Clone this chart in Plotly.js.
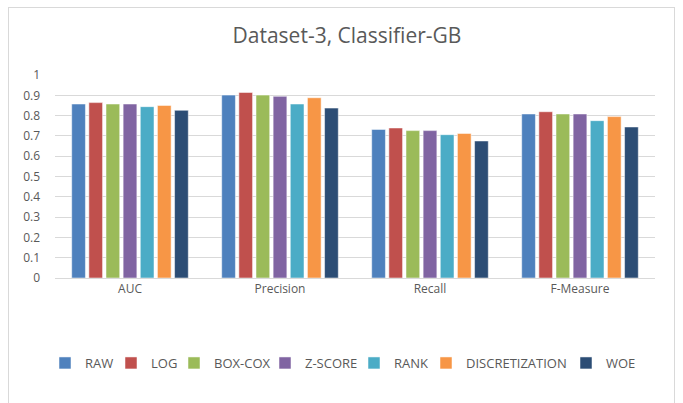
<!DOCTYPE html>
<html><head><meta charset="utf-8">
<script src="https://cdn.plot.ly/plotly-3.0.1.min.js"></script>
<style>
body{margin:0;padding:0;background:#fff;}
#frame{position:absolute;left:8px;top:7px;width:665px;height:400px;border:1px solid #d9d9d9;border-bottom:none;}
#chart{position:absolute;left:0;top:0;width:683px;height:403px;}
</style></head>
<body>
<div id="frame"></div>
<div id="chart"></div>
<script>
const categories = ["AUC", "Precision", "Recall", "F-Measure"];
const seriesNames = ["RAW", "LOG", "BOX-COX", "Z-SCORE", "RANK", "DISCRETIZATION", "WOE"];
const RAW = [0.857, 0.901, 0.732, 0.808];
const LOG = [0.864, 0.914, 0.739, 0.819];
const BOXCOX = [0.857, 0.901, 0.726, 0.808];
const ZSCORE = [0.857, 0.895, 0.726, 0.808];
const RANK = [0.844, 0.857, 0.706, 0.775];
const DISCRETIZATION = [0.850, 0.888, 0.712, 0.795];
const WOE = [0.826, 0.837, 0.675, 0.744];
const yTicks = [0, 0.1, 0.2, 0.3, 0.4, 0.5, 0.6, 0.7, 0.8, 0.9, 1];

const seriesValues = [RAW, LOG, BOXCOX, ZSCORE, RANK, DISCRETIZATION, WOE];
const colors = ["#4F81BD", "#C0504D", "#9BBB59", "#8064A2", "#4BACC6", "#F79646", "#2C4D75"];
// legend entry positions (px from left of figure)
const legendLeftPx = [45, 111, 174, 265, 354, 426, 566];

const W = 683, H = 403, ML = 55, MR = 28, MT = 75, MB = 125;
const plotW = W - ML - MR, plotH = H - MT - MB;

const traces = seriesNames.map((n, i) => ({
  type: "bar", name: n, x: categories, y: seriesValues[i],
  legend: i === 0 ? "legend" : "legend" + (i + 1),
  marker: {color: colors[i], line: {color: "#ffffff", width: 0.5}},
  hoverinfo: "none"
}));

const layout = {
  width: W, height: H,
  margin: {l: ML, r: MR, t: MT, b: MB, pad: 0},
  paper_bgcolor: "rgba(0,0,0,0)", plot_bgcolor: "rgba(0,0,0,0)",
  font: {family: "Open Sans, sans-serif", color: "#595959", size: 12},
  title: {text: "Dataset-3, Classifier-GB", x: 0.508, xanchor: "center", y: 0.912, yanchor: "middle",
          font: {size: 21, color: "#595959", family: "Open Sans, sans-serif"}},
  barmode: "group", bargap: 0.2, bargroupgap: 0.2,
  xaxis: {showline: true, linecolor: "#d9d9d9", ticks: "", tickfont: {size: 12, color: "#595959"}, fixedrange: true},
  yaxis: {range: [0, 1], tickvals: yTicks, ticktext: yTicks.map(String), showgrid: true, gridcolor: "#d9d9d9",
          zeroline: false, showline: false, ticks: "", ticklabelstandoff: 14,
          tickfont: {size: 12, color: "#595959"}, fixedrange: true},
  showlegend: true
};
const legendY = (H - MB - 363) / plotH;
legendLeftPx.forEach((px, i) => {
  const key = i === 0 ? "legend" : "legend" + (i + 1);
  layout[key] = {orientation: "h", x: (px - ML) / plotW, xanchor: "left", y: legendY, yanchor: "middle",
                 font: {size: 13, color: "#595959"}, bgcolor: "rgba(0,0,0,0)", borderwidth: 0,
                 itemclick: false, itemdoubleclick: false};
});
Plotly.newPlot("chart", traces, layout, {displayModeBar: false, staticPlot: true});
</script>
</body></html>
